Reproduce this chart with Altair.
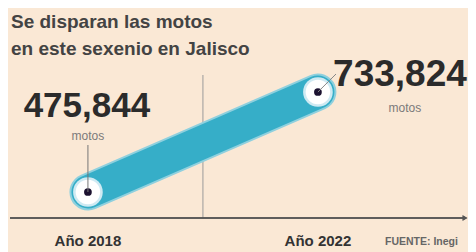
import altair as alt
import pandas as pd

years = [2018, 2022]
values = [475844, 733824]
labels = ["475,844", "733,824"]
unit = ["motos", "motos"]
year_labels = ["Año 2018", "Año 2022"]
title_lines = ["Se disparan las motos", "en este sexenio en Jalisco"]
source = "FUENTE: Inegi"
mid_year = [2020]

df = pd.DataFrame({"year": years, "value": values, "label": labels, "unit": unit, "ylab": year_labels})
first = df.iloc[[0]]
last = df.iloc[[1]]

BG = "#fae8d5"
NUMFONT = "Liberation Sans, Arial, sans-serif"
TFONT = "Liberation Sans, Arial, sans-serif"

xs = alt.Scale(domain=[2016.61, 2024.61], nice=False, zero=False)
ys = alt.Scale(domain=[408769, 950527], nice=False, zero=False)
X = alt.X("year:Q", scale=xs, axis=None)
Y = alt.Y("value:Q", scale=ys, axis=None)

base = alt.Chart(df)

axis_line = base.mark_rule(color="#555555", strokeWidth=1.6).encode(
    x=alt.value(2), x2=alt.value(456), y=alt.value(210))
arrow = base.mark_point(shape="triangle-right", filled=True, color="#555555", size=30, opacity=1
                        ).encode(x=alt.value(457), y=alt.value(210))
year_text = base.mark_text(font=NUMFONT, fontWeight="bold", fontSize=15, color="#333333",
                           baseline="alphabetic", align="center").encode(
    x=X, y=alt.value(238), text="ylab:N")

midline = alt.Chart(pd.DataFrame({"year": mid_year})).mark_rule(
    color="#9a9a9a", strokeWidth=1
).encode(x=alt.X("year:Q", scale=xs, axis=None), y=alt.value(67), y2=alt.value(210))

band_glow = base.mark_line(color="#8fd0de", strokeWidth=37, strokeCap="round").encode(x=X, y=Y)
band = base.mark_line(color="#36aec8", strokeWidth=33, strokeCap="round").encode(x=X, y=Y)

ring = base.mark_point(shape="circle", filled=True, color="#cfeaf3", size=880, opacity=1).encode(x=X, y=Y)
white = base.mark_point(shape="circle", filled=True, color="#ffffff", size=600, opacity=1).encode(x=X, y=Y)
dot = base.mark_point(shape="circle", filled=True, color="#1c1230", size=60, opacity=1).encode(x=X, y=Y)

lead1 = alt.Chart(first).mark_rule(color="#777777", strokeWidth=1).encode(x=X, y=Y, y2=alt.value(137))
lead2 = alt.Chart(last).mark_rule(color="#888888", strokeWidth=1).encode(x=X, y=Y, x2=alt.value(328), y2=alt.value(66))

num1 = alt.Chart(first).mark_text(font=NUMFONT, fontWeight="bold", fontSize=35, color="#2b2b2b",
                                  dx=-1, dy=-75, baseline="alphabetic", align="center").encode(x=X, y=Y, text="label:N")
unit1 = alt.Chart(first).mark_text(font=TFONT, fontSize=12, color="#7a7a7a",
                                   dx=0, dy=-52, baseline="alphabetic", align="center").encode(x=X, y=Y, text="unit:N")
num2 = alt.Chart(last).mark_text(font=NUMFONT, fontWeight="bold", fontSize=37, color="#2b2b2b",
                                 dx=82, dy=-6, baseline="alphabetic", align="center").encode(x=X, y=Y, text="label:N")
unit2 = alt.Chart(last).mark_text(font=TFONT, fontSize=12, color="#7a7a7a",
                                  dx=87, dy=20, baseline="alphabetic", align="center").encode(x=X, y=Y, text="unit:N")

title1 = alt.Chart(pd.DataFrame({"t": [title_lines[0]]})).mark_text(
    font=TFONT, fontWeight="bold", fontSize=19, color="#434343", align="left", baseline="alphabetic"
).encode(x=alt.value(3), y=alt.value(20), text="t:N")
title2 = alt.Chart(pd.DataFrame({"t": [title_lines[1]]})).mark_text(
    font=TFONT, fontWeight="bold", fontSize=19, color="#434343", align="left", baseline="alphabetic"
).encode(x=alt.value(3), y=alt.value(47), text="t:N")

src = alt.Chart(pd.DataFrame({"s": [source]})).mark_text(
    font=NUMFONT, fontWeight="bold", fontSize=10.5, color="#666666", align="left", baseline="alphabetic"
).encode(x=alt.value(377), y=alt.value(237), text="s:N")

chart = alt.layer(midline, axis_line, arrow, band_glow, band, ring, white, dot, lead1, lead2,
                  num1, unit1, num2, unit2, title1, title2, year_text, src).properties(
    width=460, height=210, background=BG,
    padding={"left": 0, "top": 0, "right": 0, "bottom": 34},
    autosize=alt.AutoSizeParams(type="none"),
).configure_view(stroke=None)

chart.save("out.html", embed_options={"renderer": "svg", "actions": False})
